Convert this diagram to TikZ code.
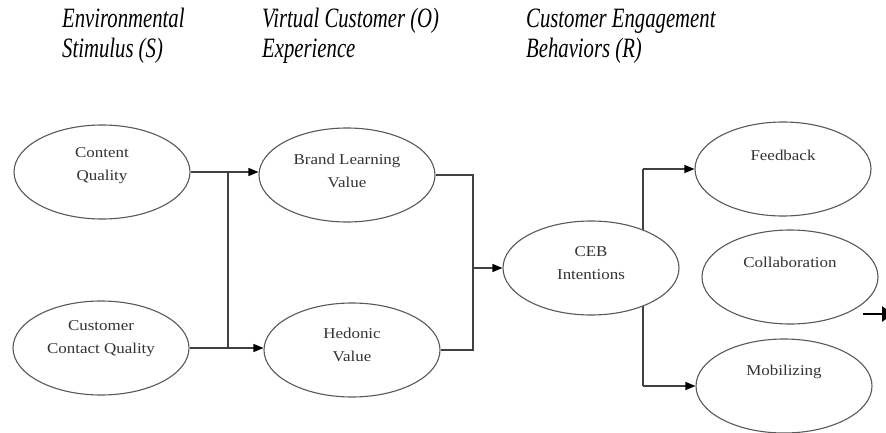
\documentclass[tikz,border=0pt]{standalone}
\usepackage{fontspec}
\setmainfont{Liberation Serif}
\newfontfamily\ellfont[FakeStretch=1.13]{Liberation Serif}
\newfontfamily\headfont[FakeStretch=0.74]{Liberation Serif}
\usetikzlibrary{shapes.geometric,arrows.meta,backgrounds}
\tikzset{
  ell/.style={ellipse, draw=black!65, line width=1.1pt, fill=white,
    minimum width=176pt, minimum height=94pt, inner sep=0pt},
  etext/.style={inner sep=0pt, align=center, text=black!80,
    font=\ellfont\fontsize{15}{23}\selectfont},
  head/.style={inner sep=0pt, anchor=base west, align=left,
    font=\headfont\itshape\fontsize{28}{30}\selectfont},
  conn/.style={draw=black!75, line width=1.3pt},
  arr/.style={conn, -{Triangle[length=10pt,width=8pt,color=black]}},
}
\begin{document}
\begin{tikzpicture}[x=1pt,y=-1pt]
\useasboundingbox (0,0) rectangle (886,433);
% headers
\node[head] (h1a) at (62,28) {Environmental};
\node[head] (h1b) at (62,58) {Stimulus (S)};
\node[head] (h2a) at (262,28) {Virtual Customer (O)};
\node[head] (h2b) at (262,58) {Experience};
\node[head] (h3a) at (526,28) {Customer Engagement};
\node[head] (h3b) at (526,58) {Behaviors (R)};
% ellipses
\node[ell] (cq)  at (102,172) {};
\node[ell] (ccq) at (101,348) {};
\node[ell] (bl)  at (347,175) {};
\node[ell] (hv)  at (352,350) {};
\node[ell] (ceb) at (591,268) {};
\node[ell] (fb)  at (783,169) {};
\node[ell] (co)  at (790,277) {};
\node[ell] (mb)  at (784,386) {};
% texts
\node[etext] (tcq)  at (102,166) {Content\\Quality};
\node[etext] (tccq) at (101,339) {Customer\\Contact Quality};
\node[etext] (tbl)  at (347,171) {Brand Learning\\Value};
\node[etext] (thv)  at (352,345) {Hedonic\\Value};
\node[etext] (tceb) at (591,263) {CEB\\Intentions};
\node[etext] (tfb)  at (783,155) {Feedback};
\node[etext] (tco)  at (790,262) {Collaboration};
\node[etext] (tmb)  at (784,372) {Mobilizing};
% junction coordinates
\coordinate (j1) at (228,0);
\coordinate (j2) at (473,0);
\coordinate (j3) at (643,0);
\coordinate (sa) at (863,314);
\coordinate (sb) at (893,314);
\begin{scope}[on background layer]
\fill[white] (0,0) rectangle (886,433);
\draw[conn] (cq.east) -- (cq.east -| j1) -- (ccq.east -| j1) -- (ccq.east);
\draw[arr] (cq.east -| j1) -- (cq.east -| bl.west);
\draw[arr] (ccq.east -| j1) -- (ccq.east -| hv.west);
\draw[conn] (bl.east) -- (bl.east -| j2) -- (hv.east -| j2) -- (hv.east);
\draw[arr] (ceb.west -| j2) -- (ceb.west);
\draw[conn] (fb.west -| j3) -- (mb.west -| j3);
\draw[arr] (fb.west -| j3) -- (fb.west);
\draw[arr] (mb.west -| j3) -- (mb.west);
\end{scope}
\draw[line width=2.6pt, -{Triangle[length=11pt,width=15pt]}] (sa) -- (sb);
\end{tikzpicture}
\end{document}
